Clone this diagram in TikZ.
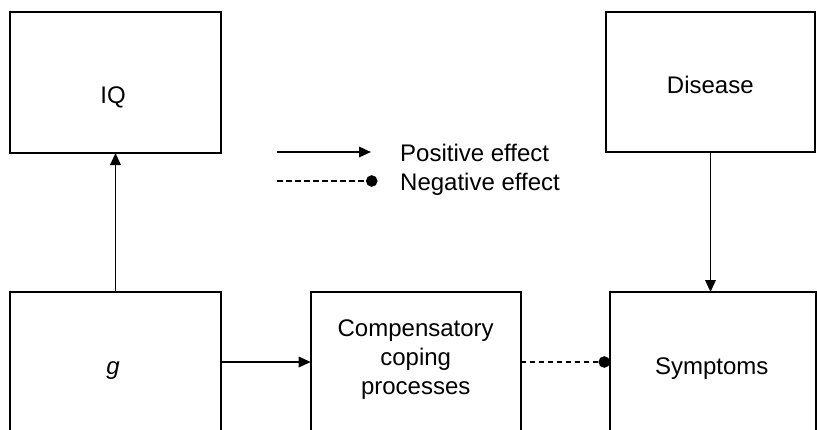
\documentclass[tikz,border=0pt]{standalone}
\usepackage{fontspec}
\setmainfont{Liberation Sans}
\usetikzlibrary{arrows.meta,calc}
\begin{document}
\begin{tikzpicture}[x=1pt,y=-1pt,
  box/.style={draw,line width=2pt,inner sep=0pt,outer sep=0pt},
  lbl/.style={font=\fontsize{24}{29}\selectfont,inner sep=0pt},
  posarrow/.style={line width=1.7pt,-{Triangle[length=12pt,width=10.5pt]}},
  negarrow/.style={line width=1.7pt,dash pattern=on 5.5pt off 3.5pt,-{Circle[length=11.5pt]}}]
\useasboundingbox (0,0) rectangle (817,429);
\clip (0,0) rectangle (817,429);

% boxes
\node[box,minimum width=211pt,minimum height=141pt] (iq)   at (115.5,82.5) {};
\node[box,minimum width=209pt,minimum height=140pt] (dis)  at (710.5,82)   {};
\node[box,minimum width=211pt,minimum height=140pt] (g)    at (115.5,362)  {};
\node[box,minimum width=210pt,minimum height=140pt] (comp) at (415.7,362)  {};
\node[box,minimum width=206pt,minimum height=140pt] (sym)  at (713,362)    {};

% box texts
\node[lbl,anchor=base] (iqt)   at (113,103)   {IQ};
\node[lbl,anchor=base] (dist)  at (710.3,93.5) {Disease};
\node[lbl,anchor=base] (gt)    at (113,374)   {\itshape g};
\node[lbl,align=center] (compt) at (415.7,360) {Compensatory\\coping\\processes};
\node[lbl,anchor=base] (symt)  at (711.7,374) {Symptoms};

% effects
\draw[posarrow] (g) -- (iq);
\draw[posarrow] (g) -- (comp);
\draw[negarrow] (comp) -- (sym);
\draw[posarrow] (dis) -- (dis.south |- sym.north);

% key
\coordinate (pa) at (277,152);
\coordinate (pb) at (371,152);
\coordinate (na) at (277,181);
\coordinate (nb) at (377.5,181);
\draw[posarrow] (pa) -- (pb);
\draw[negarrow] (na) -- (nb);
\node[lbl,anchor=base west] (post) at (400,161) {Positive effect};
\node[lbl,anchor=base west] (negt) at (400,190) {Negative effect};
\end{tikzpicture}
\end{document}
